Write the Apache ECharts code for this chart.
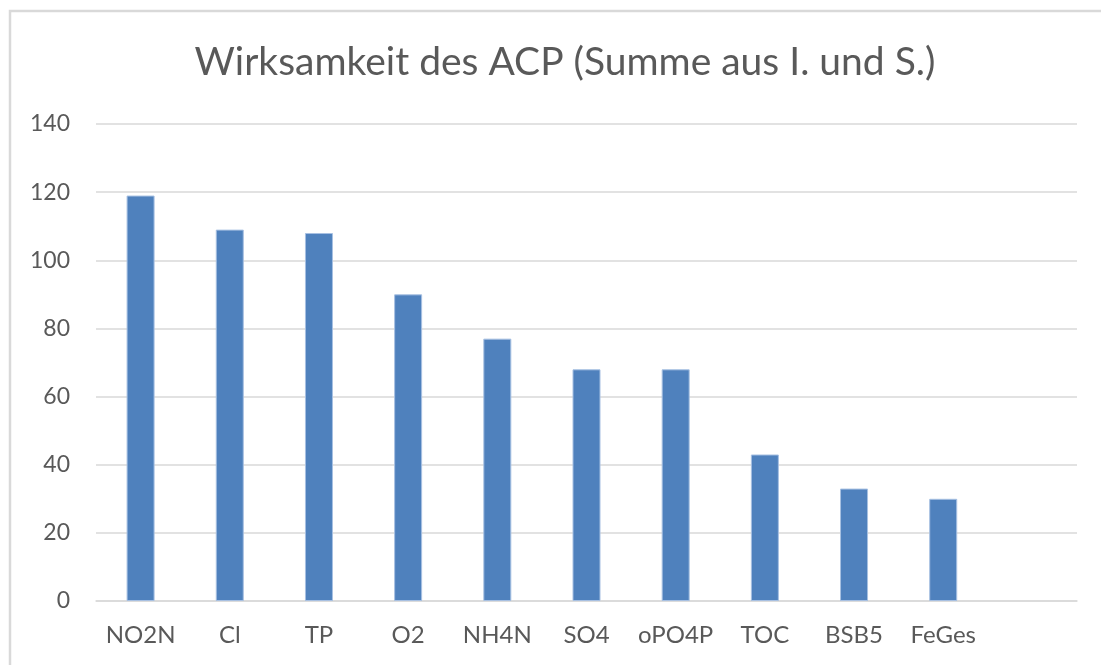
<!DOCTYPE html>
<html>
<head>
<meta charset="utf-8">
<style>
  html, body { margin: 0; padding: 0; background: #ffffff; }
  #chart { width: 1101px; height: 665px; }
</style>
<script src="https://cdn.jsdelivr.net/npm/echarts@6/dist/echarts.min.js"></script>
</head>
<body>
<div id="chart"></div>
<script>
// the source chart leaves one empty slot after FeGes
const categories = ['NO2N', 'Cl', 'TP', 'O2', 'NH4N', 'SO4', 'oPO4P', 'TOC', 'BSB5', 'FeGes', ''];
const values = [119, 109, 108, 90, 77, 68, 68, 43, 33, 30, null];
const yTicks = { min: 0, max: 140, interval: 20 };

const TEXT_COLOR = '#595959';
const GRID_COLOR = '#d9d9d9';
const BAR_COLOR = '#4f81bd';
const FONT = 'Lato, "Open Sans", sans-serif';

const chart = echarts.init(document.getElementById('chart'), null, { renderer: 'canvas' });

chart.setOption({
  animation: false,
  backgroundColor: '#ffffff',
  graphic: [
    {
      type: 'rect',
      silent: true,
      shape: { x: 10, y: 11, width: 1200, height: 800 },
      style: { fill: 'none', stroke: '#d9d9d9', lineWidth: 2.5 },
    },
  ],
  title: {
    text: 'Wirksamkeit des ACP (Summe aus I. und S.)',
    left: 560,
    top: 38,
    textAlign: 'center',
    textStyle: {
      color: TEXT_COLOR,
      fontFamily: FONT,
      fontSize: 39,
      fontWeight: 'normal',
    },
  },
  grid: {
    left: 96,
    right: 24,
    top: 124,
    bottom: 64,
    containLabel: false,
  },
  xAxis: {
    type: 'category',
    data: categories,
    axisLine: { show: true, lineStyle: { color: GRID_COLOR, width: 1.5 } },
    axisTick: { show: false },
    axisLabel: {
      interval: 0,
      hideOverlap: false,
      color: TEXT_COLOR,
      fontFamily: FONT,
      fontSize: 24,
      margin: 22,
    },
  },
  yAxis: {
    type: 'value',
    min: yTicks.min,
    max: yTicks.max,
    interval: yTicks.interval,
    axisLine: { show: false },
    axisTick: { show: false },
    axisLabel: {
      color: TEXT_COLOR,
      fontFamily: FONT,
      fontSize: 23,
      margin: 26,
    },
    splitLine: { lineStyle: { color: GRID_COLOR, width: 1.5 } },
  },
  series: [
    {
      type: 'bar',
      data: values,
      barWidth: 28,
      itemStyle: {
        color: BAR_COLOR,
        borderColor: '#a7c0e2',
        borderWidth: 1,
      },
    },
  ],
});
</script>
</body>
</html>
